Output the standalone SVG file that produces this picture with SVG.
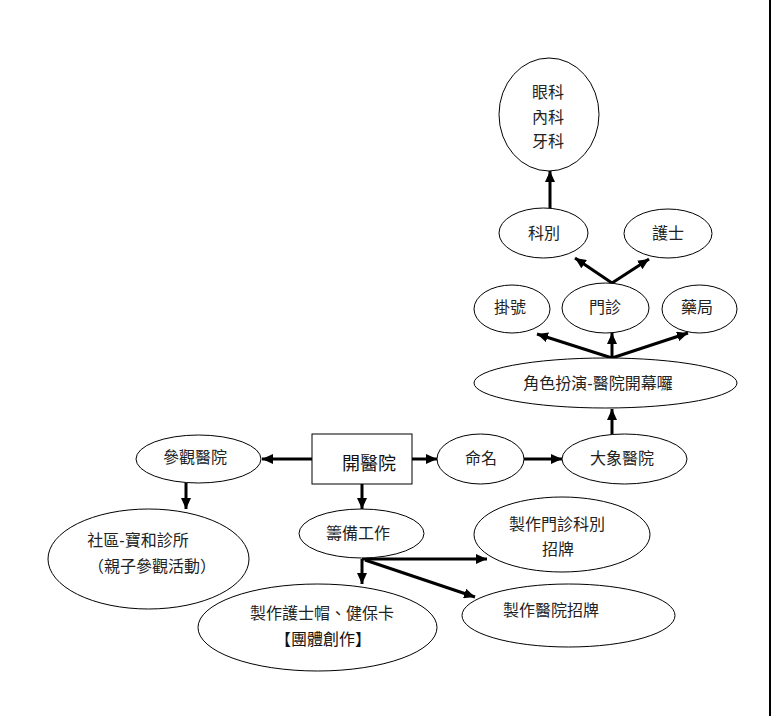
<svg xmlns="http://www.w3.org/2000/svg" width="771" height="716" viewBox="0 0 771 716">
<defs>
<style>
.n{fill:#fff;stroke:#000;stroke-width:1}
.t{font-family:"Liberation Sans","Noto Sans CJK TC",sans-serif;font-size:16px;fill:#222;text-anchor:middle;dominant-baseline:central}
.big{font-size:18px;fill:#111}
.c{stroke:#000;stroke-width:3;fill:none;marker-end:url(#ah)}
</style>
<marker id="ah" markerUnits="userSpaceOnUse" markerWidth="11" markerHeight="10" refX="11" refY="5" orient="auto">
<path d="M0,0 L11,5 L0,10 z" fill="#000"/>
</marker>
</defs>
<rect width="771" height="716" fill="#fff"/>
<rect x="769" y="0" width="2" height="716" fill="#000"/>

<g id="connectors">
<line class="c" x1="312" y1="459" x2="262" y2="459"/>
<line class="c" x1="412" y1="459" x2="437" y2="459"/>
<line class="c" x1="524" y1="459" x2="562" y2="459"/>
<line class="c" x1="612" y1="434" x2="612" y2="409"/>
<line class="c" x1="612" y1="358" x2="537" y2="334"/>
<line class="c" x1="612" y1="358" x2="612" y2="333"/>
<line class="c" x1="612" y1="358" x2="688" y2="333"/>
<line class="c" x1="612" y1="283" x2="575" y2="258"/>
<line class="c" x1="612" y1="283" x2="649" y2="259"/>
<line class="c" x1="550" y1="208" x2="550" y2="171"/>
<line class="c" x1="186" y1="483" x2="186" y2="509"/>
<line class="c" x1="362" y1="484" x2="362" y2="509"/>
<line class="c" x1="362" y1="559" x2="362" y2="584"/>
<line class="c" x1="362" y1="559" x2="487" y2="559"/>
<line class="c" x1="365" y1="560" x2="475" y2="597"/>
</g>

<g id="n-depts">
<ellipse class="n" cx="549" cy="114.5" rx="50" ry="56.5"/>
<text class="t" x="548" y="92">眼科</text>
<text class="t" x="548" y="117">內科</text>
<text class="t" x="548" y="141">牙科</text>
</g>
<g id="n-kebie">
<ellipse class="n" cx="543.5" cy="233" rx="44.5" ry="25"/>
<text class="t" x="544" y="233">科別</text>
</g>
<g id="n-hushi">
<ellipse class="n" cx="668" cy="233.5" rx="44" ry="24.5"/>
<text class="t" x="668" y="233">護士</text>
</g>
<g id="n-guahao">
<ellipse class="n" cx="512" cy="309" rx="38" ry="24"/>
<text class="t" x="510" y="307">掛號</text>
</g>
<g id="n-menzhen">
<ellipse class="n" cx="605.5" cy="308" rx="43.5" ry="25"/>
<text class="t" x="605" y="307">門診</text>
</g>
<g id="n-yaoju">
<ellipse class="n" cx="699.5" cy="309" rx="37.5" ry="24"/>
<text class="t" x="697" y="307">藥局</text>
</g>
<g id="n-roleplay">
<ellipse class="n" cx="605.5" cy="383" rx="131.5" ry="25"/>
<text class="t" x="598" y="383">角色扮演-醫院開幕囉</text>
</g>
<g id="n-open">
<rect class="n" x="312" y="434" width="100" height="50"/>
<text class="t big" x="369" y="464">開醫院</text>
</g>
<g id="n-visit">
<ellipse class="n" cx="198.5" cy="459" rx="62.5" ry="24"/>
<text class="t" x="195" y="457">參觀醫院</text>
</g>
<g id="n-clinic">
<ellipse class="n" cx="148.5" cy="559" rx="100.5" ry="50"/>
<text class="t" x="138" y="540">社區-寶和診所</text>
<text class="t" x="152" y="566">（親子參觀活動）</text>
</g>
<g id="n-name">
<ellipse class="n" cx="480.5" cy="459" rx="43.5" ry="25"/>
<text class="t" x="481" y="458">命名</text>
</g>
<g id="n-elephant">
<ellipse class="n" cx="624.5" cy="459" rx="62.5" ry="25"/>
<text class="t" x="622" y="458">大象醫院</text>
</g>
<g id="n-prep">
<ellipse class="n" cx="361.5" cy="533.5" rx="62.5" ry="24.5"/>
<text class="t" x="358" y="533">籌備工作</text>
</g>
<g id="n-signdept">
<ellipse class="n" cx="562" cy="534.5" rx="88" ry="37.5"/>
<text class="t" x="557" y="524">製作門診科別</text>
<text class="t" x="558" y="549">招牌</text>
</g>
<g id="n-cap">
<ellipse class="n" cx="317.5" cy="627.5" rx="119.5" ry="43.5"/>
<text class="t" x="322" y="613">製作護士帽、健保卡</text>
<text class="t" x="323" y="639" style="fill:#111">【團體創作】</text>
</g>
<g id="n-signhosp">
<ellipse class="n" cx="568.5" cy="615.5" rx="106.5" ry="31.5"/>
<text class="t" x="551" y="610">製作醫院招牌</text>
</g>
</svg>
